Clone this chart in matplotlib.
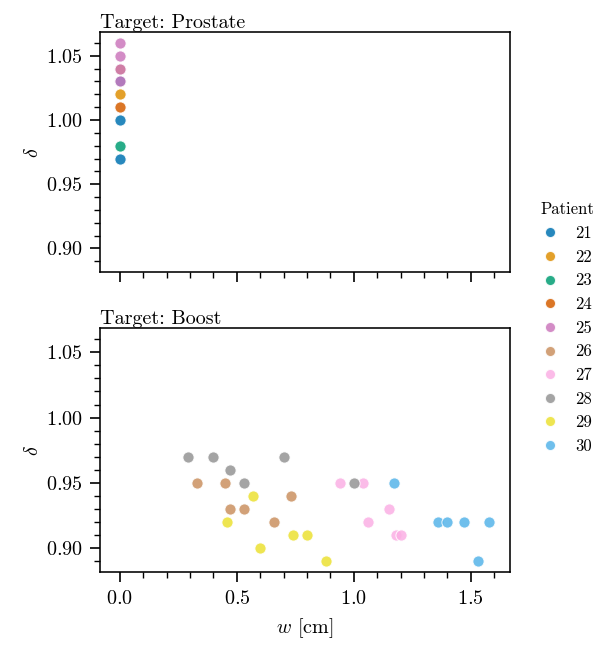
import numpy as np
import matplotlib.pyplot as plt
from matplotlib.ticker import MultipleLocator

plt.rcParams['font.family'] = 'serif'
plt.rcParams['font.serif'] = ['cmr10', 'DejaVu Serif']
plt.rcParams['mathtext.fontset'] = 'cm'
plt.rcParams['axes.formatter.use_mathtext'] = True

patients = [21, 22, 23, 24, 25, 26, 27, 28, 29, 30]
colors = ['#0173b2', '#de8f05', '#029e73', '#d55e00', '#cc78bc',
          '#ca9161', '#fbafe4', '#949494', '#ece133', '#56b4e9']

# Target: Prostate (all at w = 0)
prostate_patient = [21, 21, 21, 22, 22, 23, 24, 25, 25, 25, 25]
prostate_w = [0.0] * 11
prostate_delta = [0.97, 1.00, 1.03, 1.02, 1.04, 0.98, 1.01, 1.03, 1.04, 1.05, 1.06]

# Target: Boost
boost_patient = [28, 28, 28, 28, 28, 28,
                 26, 26, 26, 26, 26, 26,
                 29, 29, 29, 29, 29, 29,
                 27, 27, 27, 27, 27, 27,
                 30, 30, 30, 30, 30, 30]
boost_w = [0.29, 0.40, 0.47, 0.53, 0.70, 1.00,
           0.33, 0.45, 0.47, 0.53, 0.66, 0.73,
           0.57, 0.46, 0.60, 0.74, 0.80, 0.88,
           0.94, 1.04, 1.06, 1.15, 1.18, 1.20,
           1.17, 1.36, 1.40, 1.47, 1.58, 1.53]
boost_delta = [0.97, 0.97, 0.96, 0.95, 0.97, 0.95,
               0.95, 0.95, 0.93, 0.93, 0.92, 0.94,
               0.94, 0.92, 0.90, 0.91, 0.91, 0.89,
               0.95, 0.95, 0.92, 0.93, 0.91, 0.91,
               0.95, 0.92, 0.92, 0.92, 0.92, 0.89]

fig = plt.figure(figsize=(5.97, 6.48), dpi=100)
ax1 = fig.add_axes([0.1675, 0.580, 0.6865, 0.3706])
ax2 = fig.add_axes([0.1675, 0.117, 0.6865, 0.3765], sharex=ax1, sharey=ax1)

cmap = dict(zip(patients, colors))


def draw(ax, pat, w, d, title):
    pat = np.array(pat)
    w = np.array(w)
    d = np.array(d)
    for p in patients:
        m = pat == p
        if m.any():
            ax.scatter(w[m], d[m], s=65, color=cmap[p], alpha=0.85,
                       edgecolor='white', linewidth=0.75, zorder=3)
    ax.set_title(title, loc='left', fontsize=14.5, pad=3)
    ax.set_ylabel(r'$\delta$', fontsize=14.5, labelpad=3)
    ax.xaxis.set_major_locator(MultipleLocator(0.5))
    ax.xaxis.set_minor_locator(MultipleLocator(0.1))
    ax.yaxis.set_major_locator(MultipleLocator(0.05))
    ax.yaxis.set_minor_locator(MultipleLocator(0.01))
    ax.tick_params(which='major', length=7.5, width=1.2, labelsize=14.5, pad=5)
    ax.tick_params(which='minor', length=4, width=1.0)
    for s in ax.spines.values():
        s.set_linewidth(1.15)


draw(ax1, prostate_patient, prostate_w, prostate_delta, 'Target: Prostate')
draw(ax2, boost_patient, boost_w, boost_delta, 'Target: Boost')
ax1.tick_params(labelbottom=False)
ax2.set_xlabel(r'$w$ [cm]', fontsize=14.5, labelpad=6)
ax1.set_ylim(0.8815, 1.0685)
ax1.set_xlim(-0.085, 1.667)

handles = [plt.Line2D([], [], marker='o', linestyle='', markersize=7.5,
                      markerfacecolor=c, markeredgecolor='white', alpha=0.85)
           for c in colors]
fig.legend(handles, [str(p) for p in patients], title='Patient',
           loc='upper right', bbox_to_anchor=(0.995, 0.688), frameon=False,
           borderaxespad=0, borderpad=0,
           fontsize=12, title_fontsize=12, labelspacing=0.5,
           handlelength=1.0, handletextpad=1.0)

plt.savefig('out.png')
